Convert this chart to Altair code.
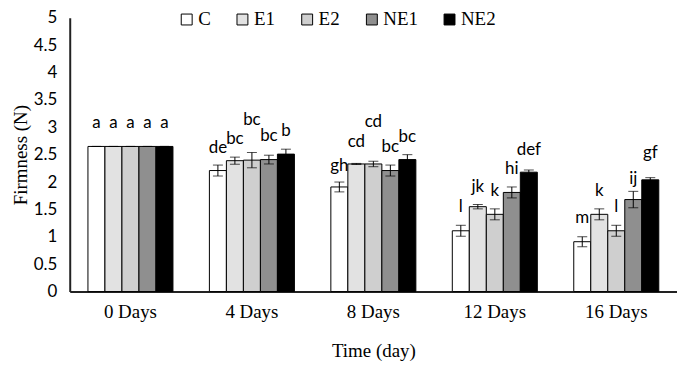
import altair as alt
import pandas as pd

days = ["0 Days", "4 Days", "8 Days", "12 Days", "16 Days"]
treatments = ["C", "E1", "E2", "NE1", "NE2"]
colors = ["#ffffff", "#e2e2e2", "#cfcfcf", "#8f8f8f", "#000000"]

# firmness values per treatment (across days)
vals = {
    "C":   [2.65, 2.21, 1.91, 1.11, 0.91],
    "E1":  [2.65, 2.39, 2.33, 1.55, 1.41],
    "E2":  [2.65, 2.40, 2.33, 1.41, 1.11],
    "NE1": [2.65, 2.41, 2.21, 1.81, 1.68],
    "NE2": [2.65, 2.51, 2.41, 2.18, 2.04],
}
errs = {
    "C":   [0.0, 0.10, 0.09, 0.10, 0.09],
    "E1":  [0.0, 0.065, 0.01, 0.04, 0.10],
    "E2":  [0.0, 0.14, 0.05, 0.10, 0.10],
    "NE1": [0.0, 0.08, 0.10, 0.10, 0.15],
    "NE2": [0.0, 0.09, 0.09, 0.04, 0.04],
}
letters = {
    "C":   ["a", "de", "gh", "l", "m"],
    "E1":  ["a", "bc", "cd", "jk", "k"],
    "E2":  ["a", "bc", "cd", "k", "l"],
    "NE1": ["a", "bc", "bc", "hi", "ij"],
    "NE2": ["a", "b", "bc", "def", "gf"],
}
# label heights (in N)
label_y = {
    "C":   [2.92, 2.46, 2.12, 1.38, 1.17],
    "E1":  [2.92, 2.62, 2.56, 1.75, 1.67],
    "E2":  [2.92, 2.96, 2.94, 1.68, 1.38],
    "NE1": [2.92, 2.67, 2.47, 2.07, 1.90],
    "NE2": [2.92, 2.77, 2.66, 2.43, 2.36],
}
yticks = [0, 0.5, 1, 1.5, 2, 2.5, 3, 3.5, 4, 4.5, 5]

rows = []
for t in treatments:
    for i, d in enumerate(days):
        rows.append({
            "day": d, "trt": t, "v": vals[t][i], "e": errs[t][i],
            "lo": vals[t][i] - errs[t][i], "hi": vals[t][i] + errs[t][i],
            "lab": letters[t][i], "ly": label_y[t][i],
        })
df = pd.DataFrame(rows)

xscale = alt.Scale(paddingInner=0.3, paddingOuter=0.15)
xaxis = alt.Axis(labelAngle=0, ticks=False, labelPadding=11,
                 labelFont="Liberation Serif", labelFontSize=19,
                 titleFont="Liberation Serif", titleFontSize=19,
                 titleFontWeight="normal", titlePadding=20,
                 domainColor="#222", domainWidth=2, labelColor="#000",
                 titleColor="#000")
yaxis = alt.Axis(values=yticks, labelOverlap=False,
                 format="~g", grid=False, ticks=False, labelPadding=13,
                 labelFont="Lato", labelFontSize=17, labelColor="#000",
                 titleFont="Liberation Serif", titleFontSize=19,
                 titleFontWeight="normal", titleColor="#000",
                 titlePadding=3, domainColor="#222", domainWidth=2)
yscale = alt.Scale(domain=[0, 5])


def X():
    return alt.X("day:N", sort=days, title="Time (day)", scale=xscale, axis=xaxis)


def Y(field):
    return alt.Y(field, scale=yscale, title="Firmness (N)", axis=yaxis)


xoff = alt.XOffset("trt:N", sort=treatments)

bars = alt.Chart(df).mark_bar(stroke="#000", strokeWidth=1).encode(
    x=X(), xOffset=xoff, y=Y("v:Q"),
    fill=alt.Fill("trt:N", sort=treatments,
                  scale=alt.Scale(domain=treatments, range=colors),
                  legend=alt.Legend(title=None, orient="none", direction="horizontal",
                                    legendX=108, legendY=-8, symbolType="square",
                                    symbolSize=120, symbolStrokeColor="#000",
                                    symbolStrokeWidth=1, labelFont="Liberation Serif",
                                    labelFontSize=19, labelColor="#000",
                                    columnPadding=22, labelOffset=2)),
)

rules = alt.Chart(df).mark_rule(color="#000", strokeWidth=1).encode(
    x=X(), xOffset=xoff, y=Y("lo:Q"), y2="hi:Q",
)
caps_lo = alt.Chart(df).mark_tick(color="#000", thickness=1, size=10).encode(
    x=X(), xOffset=xoff, y=Y("lo:Q"),
)
caps_hi = alt.Chart(df).mark_tick(color="#000", thickness=1, size=10).encode(
    x=X(), xOffset=xoff, y=Y("hi:Q"),
)
labels = alt.Chart(df).mark_text(font="Lato", fontSize=17, baseline="bottom",
                                 color="#000").encode(
    x=X(), xOffset=xoff, y=Y("ly:Q"), text="lab:N",
)

chart = alt.layer(bars, rules, caps_lo, caps_hi, labels).properties(
    width=610, height=275,
    background="#ffffff",
    autosize=alt.AutoSizeParams(type="none"),
    padding={"left": 62, "top": 9, "right": 0, "bottom": 80},
).configure_view(stroke=None)

chart.save("out.html", embed_options={"renderer": "svg", "actions": False})
